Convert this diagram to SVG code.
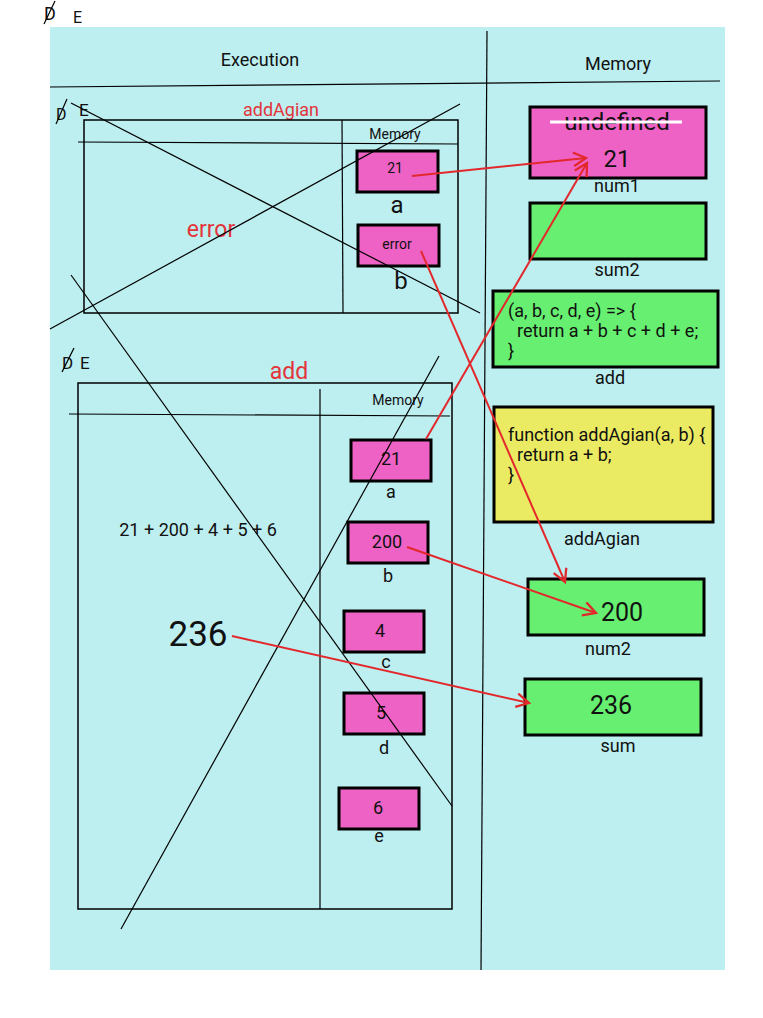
<svg xmlns="http://www.w3.org/2000/svg" width="763" height="1018" viewBox="0 0 763 1018">
<style>
text{font-family:Roboto,"Liberation Sans",sans-serif;fill:#111}
.c{text-anchor:middle}
.red{fill:#e3343a}
.box{stroke:#000;stroke-width:3}
.pink{fill:#ef62c5}
.green{fill:#66ef70}
.yellow{fill:#ebeb63}
.frame{fill:none;stroke:#000;stroke-width:1.5}
.thin{stroke:#000;stroke-width:1.2;fill:none}
.arrow{stroke:#e3282c;stroke-width:2;fill:none;marker-end:url(#ah)}
</style>
<defs>
<marker id="ah" markerUnits="userSpaceOnUse" markerWidth="16" markerHeight="16" viewBox="-12 -7 14 14" refX="0" refY="0" orient="auto">
<path d="M-11,-6 L0,0 L-11,6" fill="none" stroke="#e3282c" stroke-width="2"/>
</marker>
</defs>
<rect width="763" height="1018" fill="#fff"/>
<rect x="50" y="27" width="675" height="943" fill="#bdeef0"/>

<g id="top-mark">
<text x="44" y="20" font-size="18">D</text>
<line x1="44" y1="24" x2="55" y2="1" class="thin"/>
<text x="73" y="23" font-size="16">E</text>
</g>

<g id="layout">
<line x1="487" y1="31" x2="481" y2="970" class="thin" stroke-width="1.5"/>
<line x1="50" y1="87" x2="720" y2="81" class="thin" stroke-width="1.5"/>
<text class="c" x="260" y="66" font-size="18">Execution</text>
<text class="c" x="618" y="70" font-size="18">Memory</text>
</g>

<g id="addAgian-context">
<text x="56" y="120" font-size="16">D</text>
<line x1="56" y1="124" x2="67" y2="99" class="thin"/>
<text x="79" y="116" font-size="17">E</text>
<text class="c red" x="281" y="116" font-size="18">addAgian</text>
<rect x="84" y="120" width="374" height="193" class="frame"/>
<line x1="78" y1="142" x2="458" y2="144" class="thin" stroke-width="1.5"/>
<line x1="342" y1="120" x2="343" y2="313" class="thin" stroke-width="1.5"/>
<text class="c" x="395" y="139" font-size="14">Memory</text>
<text class="c red" x="211" y="237" font-size="23">error</text>
</g>
<g id="addAgian-a">
<rect x="357" y="151" width="81" height="41" class="box pink"/>
<text class="c" x="395" y="173" font-size="14">21</text>
<text class="c" x="397" y="213" font-size="24">a</text>
</g>
<g id="addAgian-b">
<rect x="358" y="225" width="81" height="41" class="box pink"/>
<text class="c" x="397" y="249" font-size="14">error</text>
<text class="c" x="401" y="289" font-size="24">b</text>
</g>

<g id="add-context">
<text x="62" y="369" font-size="17">D</text>
<line x1="62" y1="372" x2="74" y2="348" class="thin"/>
<text x="80" y="369" font-size="17">E</text>
<text class="c red" x="289" y="379" font-size="23">add</text>
<rect x="78" y="383" width="374" height="526" class="frame"/>
<line x1="69" y1="414" x2="450" y2="416" class="thin" stroke-width="1.5"/>
<line x1="320" y1="389" x2="320" y2="909" class="thin" stroke-width="1.5"/>
<text class="c" x="398" y="405" font-size="14">Memory</text>
<text class="c" x="198" y="536" font-size="18">21 + 200 + 4 + 5 + 6</text>
<text class="c" x="198" y="646" font-size="35">236</text>
</g>
<g id="add-a">
<rect x="351" y="440" width="80" height="41" class="box pink"/>
<text class="c" x="391" y="465" font-size="18">21</text>
<text class="c" x="391" y="498" font-size="18">a</text>
</g>
<g id="add-b">
<rect x="348" y="522" width="80" height="41" class="box pink"/>
<text class="c" x="387" y="548" font-size="18">200</text>
<text class="c" x="388" y="582" font-size="18">b</text>
</g>
<g id="add-c">
<rect x="344" y="611" width="80" height="41" class="box pink"/>
<text class="c" x="380" y="637" font-size="18">4</text>
<text class="c" x="386" y="668" font-size="18">c</text>
</g>
<g id="add-d">
<rect x="344" y="693" width="80" height="41" class="box pink"/>
<text class="c" x="381" y="719" font-size="18">5</text>
<text class="c" x="384" y="754" font-size="18">d</text>
</g>
<g id="add-e">
<rect x="339" y="788" width="80" height="41" class="box pink"/>
<text class="c" x="378" y="814" font-size="18">6</text>
<text class="c" x="379" y="842" font-size="18">e</text>
</g>

<g id="num1">
<rect x="530" y="107" width="176" height="71" class="box pink"/>
<text class="c" x="617" y="130" font-size="24">undefined</text>
<line x1="550" y1="122" x2="682" y2="122" stroke="#fff" stroke-width="3"/>
<text class="c" x="617" y="167" font-size="24">21</text>
<text class="c" x="617" y="192" font-size="18">num1</text>
</g>
<g id="sum2">
<rect x="530" y="203" width="176" height="56" class="box green"/>
<text class="c" x="617" y="276" font-size="18">sum2</text>
</g>
<g id="add">
<rect x="493" y="291" width="225" height="76" class="box green"/>
<text x="508" y="317" font-size="18">(a, b, c, d, e) =&gt; {</text>
<text x="517" y="337" font-size="18">return a + b + c + d + e;</text>
<text x="508" y="357" font-size="18">}</text>
<text class="c" x="610" y="384" font-size="18">add</text>
</g>
<g id="addAgian">
<rect x="494" y="407" width="219" height="115" class="box yellow"/>
<text x="508" y="441" font-size="18">function addAgian(a, b) {</text>
<text x="517" y="461" font-size="18">return a + b;</text>
<text x="508" y="481" font-size="18">}</text>
<text class="c" x="602" y="545" font-size="18">addAgian</text>
</g>
<g id="num2">
<rect x="528" y="579" width="176" height="56" class="box green"/>
<text class="c" x="622" y="621" font-size="25">200</text>
<text class="c" x="608" y="655" font-size="18">num2</text>
</g>
<g id="sum">
<rect x="525" y="679" width="176" height="56" class="box green"/>
<text class="c" x="611" y="714" font-size="25">236</text>
<text class="c" x="618" y="752" font-size="18">sum</text>
</g>

<g id="strike-lines">
<line x1="71" y1="103" x2="480" y2="313" class="thin"/>
<line x1="50" y1="329" x2="460" y2="104" class="thin"/>
<line x1="71" y1="275" x2="452" y2="806" class="thin"/>
<line x1="121" y1="929" x2="439" y2="356" class="thin"/>
</g>

<g id="connectors">
<line x1="412" y1="176" x2="586" y2="158" class="arrow"/>
<line x1="426" y1="439" x2="587" y2="163" class="arrow"/>
<line x1="421" y1="251" x2="565" y2="582" class="arrow"/>
<line x1="407" y1="547" x2="596" y2="613" class="arrow"/>
<line x1="232" y1="636" x2="529" y2="703" class="arrow"/>
</g>
</svg>
